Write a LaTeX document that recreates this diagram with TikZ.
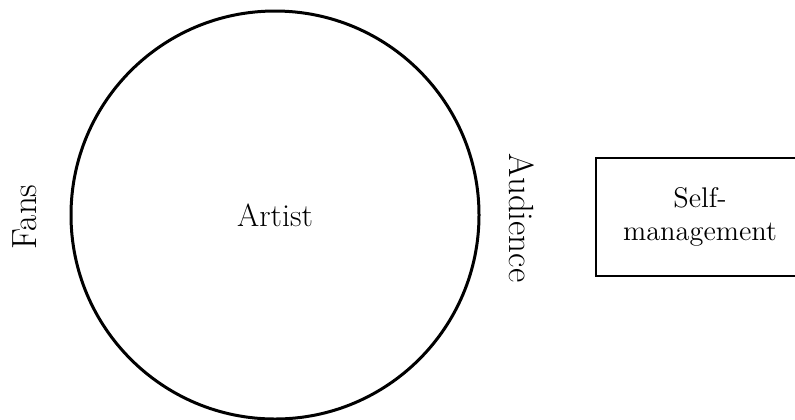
\documentclass[tikz,border=0pt]{standalone}
\usetikzlibrary{positioning,calc}

\begin{document}
\begin{tikzpicture}[x=0.5pt,y=-0.5pt,
 bigtext/.style={font=\fontsize{16}{18}\selectfont},
 core/.style={circle,draw,line width=1.5pt,minimum size=204pt,inner sep=0pt,bigtext},
 side/.style={font=\fontsize{17.5}{20}\selectfont,inner sep=0pt},
 box/.style={draw,line width=1pt,minimum width=104pt,minimum height=59pt,align=center,font=\fontsize{14.2}{16.5}\selectfont}]
\useasboundingbox (0,0) rectangle (795,419);
\node[core] (artist) at (275,215) {Artist};
\node[side,rotate=90] (fans) at (25,217) {Fans};
\node[side,rotate=-90] (audience) at ($(artist.east)+(41,3)$) {Audience};
\node[box] (self) at (700,217) {Self-\\management};
\end{tikzpicture}
\end{document}
